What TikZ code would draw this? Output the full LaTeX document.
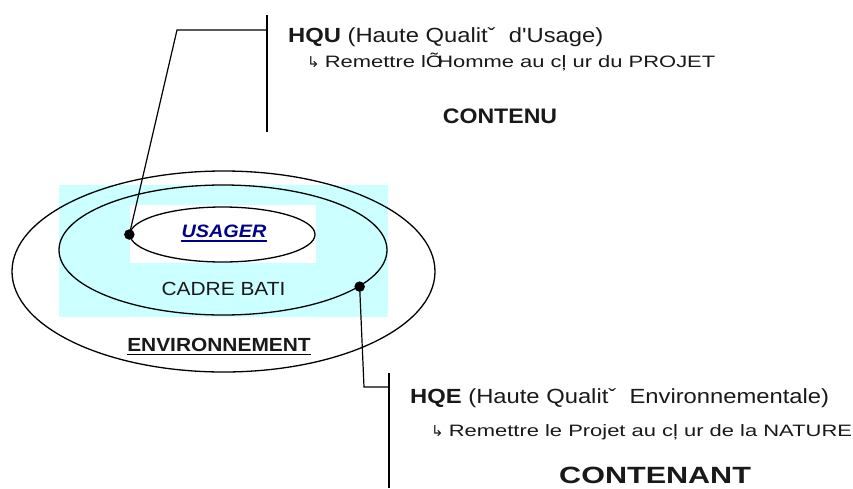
\documentclass[tikz,border=0pt]{standalone}
\usepackage{fontspec}
\setmainfont{Liberation Sans}[FakeStretch=1.1]
\newfontfamily\headfont{Liberation Sans}[FakeStretch=1.16]
\newfontfamily\subfont{Liberation Sans}[FakeStretch=1.33]
\newfontfamily\bigfont{Liberation Sans}[FakeStretch=1.3]
\newfontfamily\dejavu{DejaVu Sans}
\usetikzlibrary{shapes.geometric,calc}
\definecolor{lightcyan}{RGB}{204,255,255}
\definecolor{usnavy}{RGB}{0,0,140}
\begin{document}
\begin{tikzpicture}[x=1pt,y=-1pt,
  ring/.style={draw=black,line width=1.3pt,ellipse,inner sep=0pt},
  link/.style={draw=black,line width=1.2pt},
  bar/.style={draw=black,line width=1.2pt},
  dot/.style={circle,fill=black,inner sep=0pt,minimum size=10.5pt},
  txt/.style={inner sep=0pt,text=black!90}]
\useasboundingbox (0,0) rectangle (853,488);
% backgrounds
\fill[lightcyan] (59,185) rectangle (388,317);
\fill[white] (130,205) rectangle (316,263);
% ellipses
\node[ring,minimum width=423pt,minimum height=201pt] (outer) at (223.5,271.5) {};
\node[ring,minimum width=328pt,minimum height=130pt] (mid) at (223,250) {};
\node[ring,minimum width=185pt,minimum height=55pt] (inner) at (222.5,234.5) {};
% texts in the rings
\node[inner sep=0pt,text=usnavy,font=\fontsize{18}{20}\selectfont\bfseries\itshape] (usager) at (224,231.5) {USAGER};
\draw[usnavy,line width=2pt] ($(usager.base west)+(0,3)$) -- ($(usager.base east)+(0,3)$);
\node[txt,font=\fontsize{19}{21}\selectfont] (cadre) at (223.5,289) {CADRE BATI};
\node[txt,font=\fontsize{19}{21}\selectfont\bfseries] (env) at (219,344.5) {ENVIRONNEMENT};
\draw[black,line width=1.3pt] ($(env.base west)+(0,3.5)$) -- ($(env.base east)+(0,3.5)$);
% dots
\node[dot] (d1) at (inner.west) {};
\node[dot] (d2) at (mid.-15) {};
% HQU bracket
\coordinate (b1) at (177,30);
\coordinate (j1) at (267,30);
\coordinate (t1) at (267,15);
\coordinate (u1) at (267,132);
\draw[link] (d1.center) -- (b1) -- (j1);
\draw[bar] (t1) -- (u1);
% HQE bracket
\coordinate (b2) at (364,387);
\coordinate (j2) at (389,387);
\coordinate (t2) at (389,373);
\coordinate (u2) at (389,488);
\draw[link] (d2.center) -- (b2) -- (j2);
\draw[bar] (t2) -- (u2);
% texts
\node[txt,anchor=base west,font=\headfont\fontsize{20.5}{22}\selectfont] (hqu) at (288,42) {\textbf{HQU} (Haute Qualitˇ\ \ d'Usage)};
\node[txt,anchor=base west,font=\subfont\fontsize{16.5}{18}\selectfont] (hqus) at (307,67) {{\dejavu\fontsize{15}{16}\selectfont ↳}\kern5pt Remettre lÕ\kern-0.35em Homme au cļ ur du PROJET};
\node[txt,font=\fontsize{21}{24}\selectfont\bfseries] (contenu) at (500,116) {CONTENU};
\node[txt,anchor=base west,font=\headfont\fontsize{20.5}{22}\selectfont] (hqe) at (410,403) {\textbf{HQE} (Haute Qualitˇ\ \ Environnementale)};
\node[txt,anchor=base west,font=\subfont\fontsize{16.5}{18}\selectfont] (hqes) at (431,436) {{\dejavu\fontsize{15}{16}\selectfont ↳}\kern5pt Remettre le Projet au cļ ur de la NATURE};
\node[txt,anchor=base west,font=\bigfont\fontsize{23.5}{26}\selectfont\bfseries] (contenant) at (559,483) {CONTENANT};
\end{tikzpicture}
\end{document}
